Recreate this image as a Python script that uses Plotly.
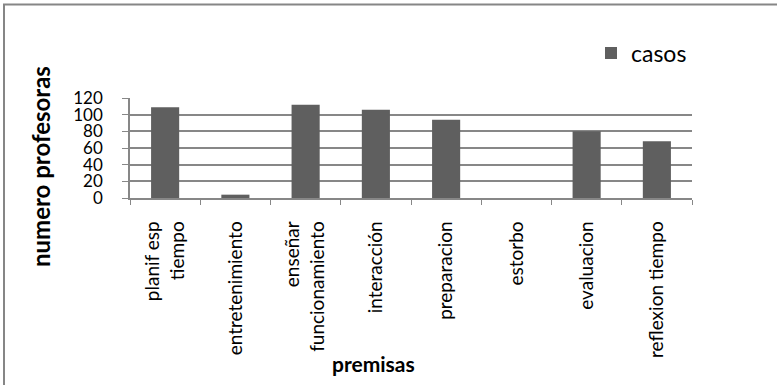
import plotly.graph_objects as go

# Premisas y número de profesoras
categorias = [
    "planif esp<br>tiempo",
    "entretenimiento",
    "enseñar<br>funcionamiento",
    "interacción",
    "preparacion",
    "estorbo",
    "evaluacion",
    "reflexion tiempo",
]
casos = [109, 4, 112, 106, 94, 0, 80, 68]
y_ticks = [0, 20, 40, 60, 80, 100, 120]

W, H = 777, 385
L, R, T, B = 130, 85, 98, 187
pw, ph = W - L - R, H - T - B

def px_x(px):
    return (px - L) / pw

def px_y(py):
    return (H - B - py) / ph

FONT = "Lato, Carlito, Calibri, sans-serif"
GRID = "#878787"

fig = go.Figure(
    go.Bar(
        x=categorias,
        y=casos,
        name="casos",
        marker=dict(color="#5f5f5f", line=dict(width=0)),
        showlegend=True,
    )
)

fig.update_layout(
    width=W,
    height=H,
    margin=dict(l=L, r=R, t=T, b=B),
    paper_bgcolor="white",
    plot_bgcolor="white",
    bargap=0.6,
    font=dict(family=FONT, color="#000000"),
    showlegend=True,
    legend=dict(
        x=px_x(591), y=px_y(53), xanchor="left", yanchor="middle",
        font=dict(size=23, family=FONT), itemwidth=30,
        bgcolor="rgba(0,0,0,0)",
    ),
    xaxis=dict(
        type="category",
        showgrid=False,
        showline=True,
        linecolor=GRID,
        linewidth=1.5,
        ticks="outside",
        tickson="boundaries",
        ticklen=5,
        tickcolor=GRID,
        tickangle=-90,
        tickfont=dict(size=19, family=FONT),
        ticklabelstandoff=14,
    ),
    yaxis=dict(
        range=[0, 120],
        tickvals=y_ticks,
        showgrid=True,
        gridcolor=GRID,
        gridwidth=1.5,
        showline=True,
        linecolor=GRID,
        linewidth=1.5,
        ticks="outside",
        ticklen=6,
        tickcolor=GRID,
        tickfont=dict(size=17, family=FONT),
        ticklabelstandoff=16,
        zeroline=False,
    ),
    annotations=[
        dict(
            text="<b>numero profesoras</b>",
            xref="paper", yref="paper",
            x=px_x(40), y=px_y(167),
            xanchor="center", yanchor="middle",
            textangle=-90,
            showarrow=False,
            font=dict(size=24, family=FONT),
        ),
        dict(
            text="<b>premisas</b>",
            xref="paper", yref="paper",
            x=px_x(373), y=px_y(363),
            xanchor="center", yanchor="middle",
            showarrow=False,
            font=dict(size=21, family=FONT),
        ),
    ],
    shapes=[
        dict(
            type="rect", xref="paper", yref="paper",
            x0=px_x(4), x1=px_x(800), y0=px_y(420), y1=px_y(4.5),
            line=dict(color="#868686", width=2),
            fillcolor="rgba(0,0,0,0)", layer="below",
        )
    ],
)

fig.write_html("out.html")
